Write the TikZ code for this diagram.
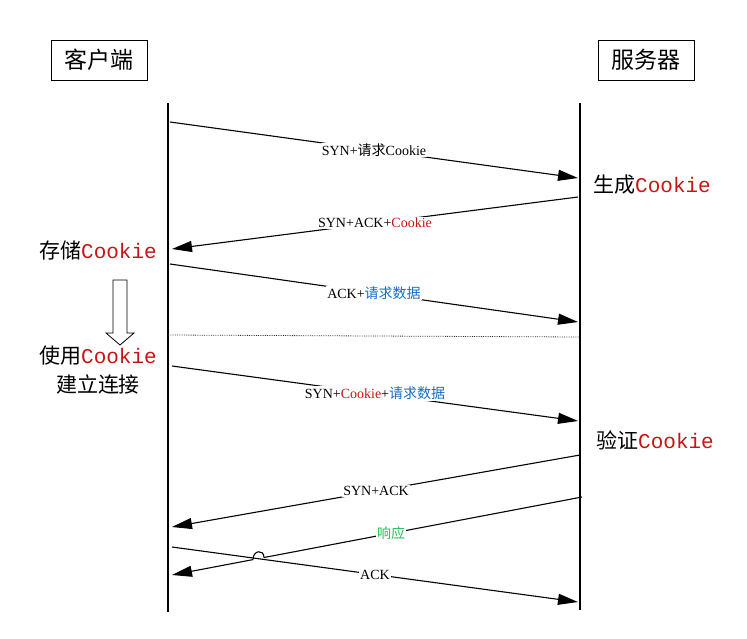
\documentclass[tikz,border=0pt]{standalone}
\usepackage{fontspec}
\setmainfont{Liberation Serif}
\newfontfamily\cjk{Noto Sans CJK SC}
\newfontfamily\mono{Liberation Mono}
\usetikzlibrary{arrows.meta}
\definecolor{ckred}{RGB}{200,20,20}
\definecolor{ckblue}{RGB}{20,110,200}
\definecolor{ckgreen}{RGB}{40,190,90}
\newcommand{\ck}{\textcolor{ckred}{\mono Cookie}}
\begin{document}
\begin{tikzpicture}[x=1pt,y=-1pt,
  msg/.style={line width=1.1pt,-{Triangle[length=20pt,width=11pt]}},
  lbl/.style={fill=white,inner sep=1pt,font=\fontsize{14}{16}\selectfont},
  side/.style={font=\fontsize{21}{29}\selectfont\cjk,align=center,inner sep=0pt},
  box/.style={draw,line width=1pt,minimum width=96pt,minimum height=40pt,font=\fontsize{23}{26}\selectfont\cjk}]
\useasboundingbox (0,0) rectangle (747,638);
\node[box] (c) at (99,60) {客户端};
\node[box] (s) at (646,60) {服务器};
\coordinate (lt) at (168,103); \coordinate (lb) at (168,612);
\coordinate (rt) at (580,103); \coordinate (rb) at (580,610);
\draw[line width=1.1pt] (lt) -- (lb);
\draw[line width=1.1pt] (rt) -- (rb);
% messages
\coordinate (a1) at (170,122); \coordinate (b1) at (578,178);
\draw[msg] (a1) -- node[lbl] {SYN+{\cjk 请求}Cookie} (b1);
\coordinate (a2) at (578,197); \coordinate (b2) at (172,249);
\draw[msg] (a2) -- node[lbl] {SYN+ACK+\textcolor{ckred}{Cookie}} (b2);
\coordinate (a3) at (170,264); \coordinate (b3) at (578,322);
\draw[msg] (a3) -- node[lbl] {ACK+\textcolor{ckblue}{\cjk 请求数据}} (b3);
\coordinate (d1) at (168,335); \coordinate (d2) at (580,337);
\draw[densely dotted,gray!40!black,line width=0.8pt] (d1) -- (d2);
\coordinate (a4) at (172,366); \coordinate (b4) at (578,421);
\draw[msg] (a4) -- node[lbl] {SYN+\textcolor{ckred}{Cookie}+\textcolor{ckblue}{\cjk 请求数据}} (b4);
\coordinate (a5) at (580,455); \coordinate (b5) at (172,527);
\draw[msg] (a5) -- node[lbl] {SYN+ACK} (b5);
\coordinate (a7) at (172,547); \coordinate (b7) at (578,602);
\draw[msg] (a7) -- node[lbl] {ACK} (b7);
\coordinate (a6) at (582,497); \coordinate (b6) at (172,575);
\coordinate (j1) at (264,557.5); \coordinate (j2) at (253,559.6);
\draw[line width=1.1pt] (a6) -- node[lbl,pos=0.6] {\textcolor{ckgreen}{\cjk 响应}} (j1);
\draw[line width=1.1pt] (j1) .. controls (264,549) and (253,550) .. (j2);
\draw[msg] (j2) -- (b6);
% side labels
\node[side] (g) at (652,185) {生成\ck};
\node[side] (st) at (98,250) {存储\ck};
\node[side] (u) at (98,370) {使用\ck\\建立连接};
\node[side] (v) at (655,440) {验证\ck};
% hollow arrow
\draw[line width=0.8pt,fill=white] (113,280) -- (127,280) -- (127,333) -- (134,333) -- (120,345) -- (106,333) -- (113,333) -- cycle;
\end{tikzpicture}
\end{document}
